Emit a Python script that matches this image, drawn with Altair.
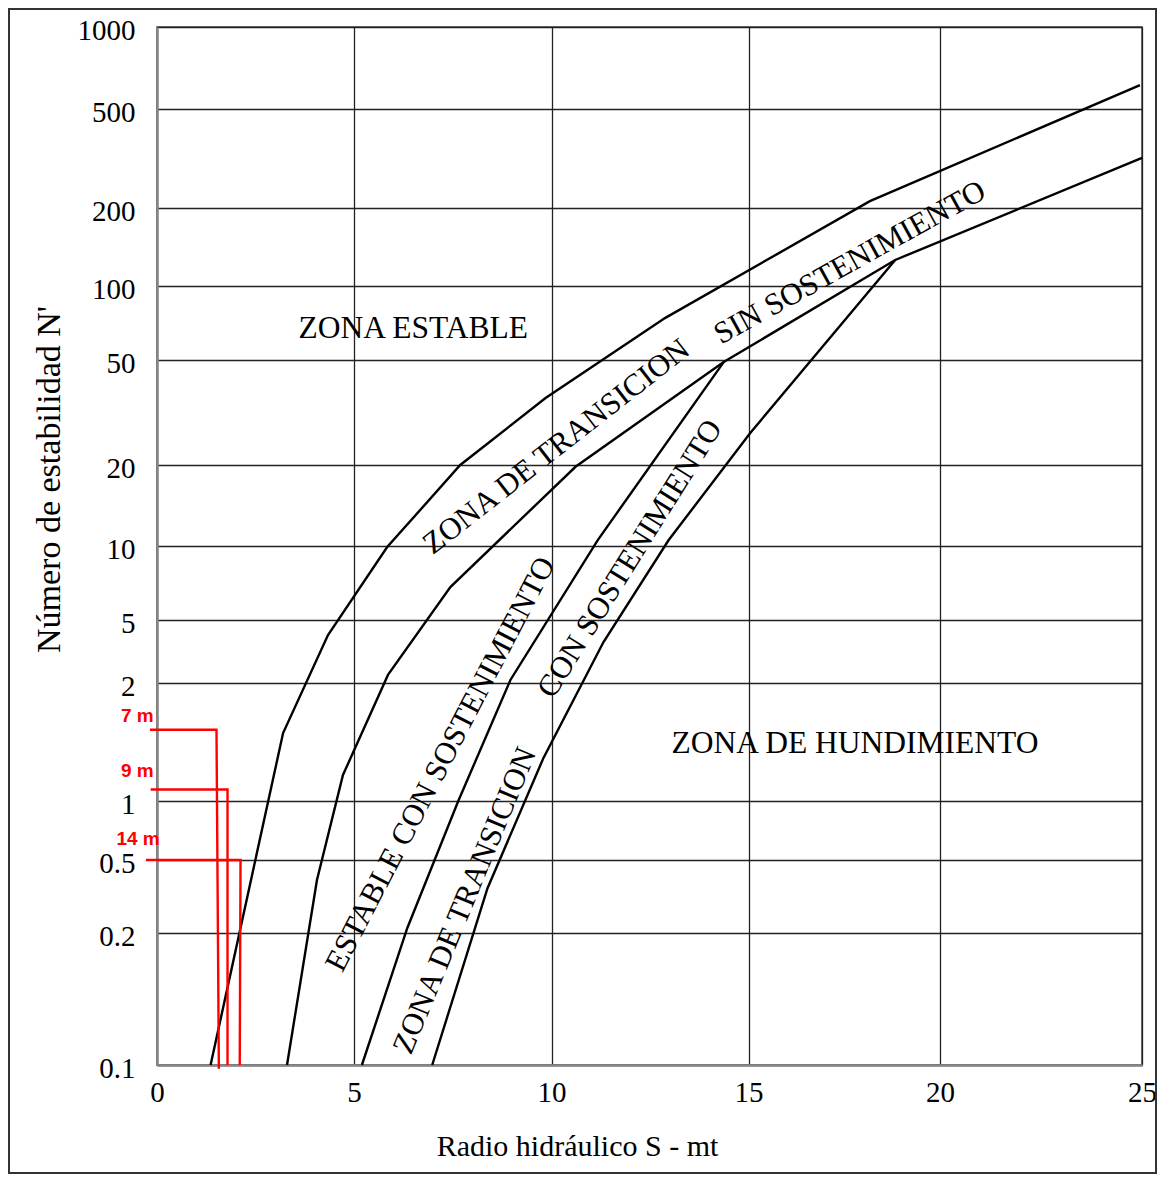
import altair as alt
import pandas as pd

# ---- curve vertices (x = hydraulic radius S [m], y = stability number N') ----
curve_a_x = [1.36, 3.20, 4.34, 5.84, 7.69, 9.85, 12.89, 18.17, 24.95]
curve_a_y = [0.1, 1.49, 4.02, 9.9, 20.0, 35.9, 74.2, 213, 612]
curve_b_x = [3.30, 4.06, 4.72, 5.86, 7.44, 10.61, 14.37, 18.83, 25.0]
curve_b_y = [0.1, 0.389, 1.165, 2.25, 6.81, 19.7, 49.1, 126, 318]
curve_c_x = [5.20, 6.35, 7.64, 8.96, 11.17, 14.37]
curve_c_y = [0.1, 0.213, 1.0, 2.09, 10.5, 49.1]
curve_d_x = [6.98, 8.38, 9.80, 11.32, 12.97, 15.04, 18.83]
curve_d_y = [0.1, 0.351, 1.29, 3.63, 10.5, 26.4, 126]

# ---- red design lines ----
red_labels = ["7 m", "9 m", "14 m"]
red_y = [1.52, 1.07, 0.5]
red_x_start = [-0.18, -0.16, -0.28]
red_x_top = [1.51, 1.79, 2.12]
red_x_bottom = [1.57, 1.79, 2.10]
red_y_bottom = [0.098, 0.1, 0.1]
red_label_x = [-0.5, -0.5, -0.48]
red_label_y = [1.65, 1.19, 0.64]

# ---- zone labels ----
flat_text = ["ZONA ESTABLE", "ZONA DE HUNDIMIENTO"]
flat_x = [6.50, 17.78]
flat_y = [66.8, 1.40]
rot_text = ["ZONA DE TRANSICION", "SIN SOSTENIMIENTO",
            "ESTABLE CON SOSTENIMIENTO", "CON SOSTENIMIENTO", "ZONA DE TRANSICION"]
rot_x = [10.13, 17.65, 7.20, 12.0, 7.82]
rot_y = [23.4, 122.7, 1.24, 8.85, 0.30]
rot_angle = [322, 331, 297.5, 302, 292.5]

# ---- axes ----
x_ticks = [0, 5, 10, 15, 20, 25]
y_ticks = [0.1, 0.2, 0.5, 1, 2, 5, 10, 20, 50, 100, 200, 500, 1000]
x_range = [0, 197, 394.5, 591.5, 783, 985]
y_range = [1038, 906, 833, 774, 656, 593, 519, 438, 333, 259, 181, 82, 0]

rows = []
for name, xs_, ys_ in [("A", curve_a_x, curve_a_y), ("B", curve_b_x, curve_b_y),
                       ("C", curve_c_x, curve_c_y), ("D", curve_d_x, curve_d_y)]:
    for i, (a, b) in enumerate(zip(xs_, ys_)):
        rows.append({"curve": name, "order": i, "x": a, "y": b})
curves_df = pd.DataFrame(rows)

red_rows = []
for lab, yv, x0, xt, xb, yb in zip(red_labels, red_y, red_x_start, red_x_top, red_x_bottom, red_y_bottom):
    red_rows += [{"label": lab, "order": 0, "x": x0, "y": yv},
                 {"label": lab, "order": 1, "x": xt, "y": yv},
                 {"label": lab, "order": 2, "x": xb, "y": yb}]
red_df = pd.DataFrame(red_rows)
red_text_df = pd.DataFrame({"label": red_labels, "x": red_label_x, "y": red_label_y})
flat_df = pd.DataFrame({"text": flat_text, "x": flat_x, "y": flat_y})
rot_df = pd.DataFrame({"text": rot_text, "x": rot_x, "y": rot_y, "angle": rot_angle})

SERIF = "Liberation Serif"
xscale = alt.Scale(domain=x_ticks, range=x_range, nice=False, zero=False)
yscale = alt.Scale(type="log", domain=y_ticks, range=y_range, nice=False)
xaxis = alt.Axis(values=x_ticks, format="d", title="Radio hidráulico S - mt",
                 titleX=420, titleY=81, titleBaseline="middle", titleAlign="center",
                 labelPadding=13, labelFlush=False, labelFont=SERIF, labelFontSize=29,
                 titleFont=SERIF, titleFontSize=30, titleFontWeight="normal")
yaxis = alt.Axis(values=y_ticks, format="~g", title="Número de estabilidad N'",
                 titleX=-108, titleY=452, titleBaseline="middle", titleAlign="center",
                 titleAngle=270, labelPadding=22, labelOffset=3, labelFlush=False,
                 labelFont=SERIF, labelFontSize=29,
                 titleFont=SERIF, titleFontSize=34, titleFontWeight="normal")
X = alt.X("x:Q", scale=xscale, axis=xaxis)
Y = alt.Y("y:Q", scale=yscale, axis=yaxis)

frame = alt.Chart(pd.DataFrame({"k": [0]})).mark_rect(
    fillOpacity=0, stroke="#333333", strokeWidth=2
).encode(x=alt.value(-148), x2=alt.value(999), y=alt.value(-18), y2=alt.value(1146))

curves = alt.Chart(curves_df).mark_line(color="black", strokeWidth=2.4).encode(
    x=X, y=Y, detail="curve:N", order="order:Q")

red = alt.Chart(red_df).mark_line(color="#ff0000", strokeWidth=2.4).encode(
    x=X, y=Y, detail="label:N", order="order:Q")

red_text = alt.Chart(red_text_df).mark_text(
    color="#ff0000", font="Liberation Sans", fontWeight="bold", fontSize=19,
    align="center", baseline="middle"
).encode(x=X, y=Y, text="label:N")

flat = alt.Chart(flat_df).mark_text(
    color="black", font=SERIF, fontSize=31.5, align="center", baseline="middle"
).encode(x=X, y=Y, text="text:N")

rot = alt.Chart(rot_df).mark_text(
    color="black", font=SERIF, fontSize=31, align="center", baseline="middle"
).encode(x=X, y=Y, text="text:N", angle=alt.Angle("angle:Q", scale=None))

chart = alt.layer(frame, curves, red, red_text, flat, rot).properties(
    width=985, height=1038, padding=0, background="white"
).configure_view(
    stroke="#444444", strokeWidth=1.5
).configure_axis(
    labelColor="black", titleColor="black",
    ticks=False, tickSize=0, domainColor="#888888", domainWidth=2.5,
    grid=True, gridColor="#222222", gridWidth=1.3, gridOpacity=1
)

chart.save("out.html", embed_options={"renderer": "svg", "actions": False})
